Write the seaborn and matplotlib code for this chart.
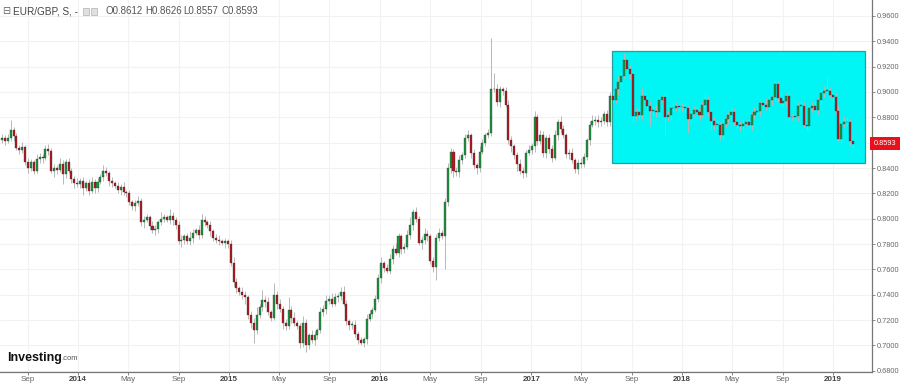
import numpy as np
import pandas as pd
import matplotlib
matplotlib.use("Agg")
import matplotlib.pyplot as plt
import seaborn as sns
from matplotlib.patches import Rectangle

# ---------------- data (weekly EUR/GBP, first week = 2013-07-01) ----------------
start_week = "2013-07-01"
first_open = 0.8620
closes = [
    0.8640, 0.8615, 0.8640, 0.8700, 0.8650, 0.8560, 0.8540, 0.8565, 0.8450, 0.8400,
    0.8445, 0.8380, 0.8470, 0.8490, 0.8480, 0.8550, 0.8535, 0.8380, 0.8400, 0.8385,
    0.8430, 0.8350, 0.8450, 0.8380, 0.8310, 0.8280, 0.8270, 0.8300, 0.8240, 0.8280,
    0.8220, 0.8290, 0.8240, 0.8290, 0.8330, 0.8380, 0.8360, 0.8300, 0.8280, 0.8260,
    0.8230, 0.8250, 0.8210, 0.8200, 0.8130, 0.8100, 0.8120, 0.8140, 0.7970, 0.7990,
    0.8010, 0.7940, 0.7910, 0.7920, 0.7970, 0.8000, 0.8010, 0.7990, 0.8020, 0.7990,
    0.7950, 0.7820, 0.7830, 0.7860, 0.7820, 0.7850, 0.7890, 0.7910, 0.7870, 0.7990,
    0.7970, 0.7950, 0.7900, 0.7850, 0.7830, 0.7820, 0.7810, 0.7820, 0.7800, 0.7650,
    0.7500, 0.7450, 0.7420, 0.7400, 0.7380, 0.7240, 0.7180, 0.7120, 0.7240, 0.7300,
    0.7360, 0.7340, 0.7260, 0.7220, 0.7400, 0.7330, 0.7290, 0.7180, 0.7150, 0.7280,
    0.7220, 0.7180, 0.7150, 0.7020, 0.7180, 0.7000, 0.7080, 0.7040, 0.7080, 0.7120,
    0.7260, 0.7290, 0.7350, 0.7370, 0.7330, 0.7380, 0.7390, 0.7420, 0.7330, 0.7190,
    0.7160, 0.7160, 0.7090, 0.7040, 0.7020, 0.7050, 0.7210, 0.7250, 0.7280, 0.7370,
    0.7530, 0.7650, 0.7610, 0.7590, 0.7680, 0.7760, 0.7730, 0.7860, 0.7760, 0.7780,
    0.7870, 0.7950, 0.8050, 0.8000, 0.7810, 0.7830, 0.7880, 0.7860, 0.7670, 0.7620,
    0.7850, 0.7890, 0.7860, 0.8130, 0.8400, 0.8530, 0.8380, 0.8370, 0.8460, 0.8500,
    0.8640, 0.8660, 0.8520, 0.8420, 0.8400, 0.8530, 0.8600, 0.8660, 0.8680, 0.9020,
    0.9020, 0.8920, 0.9020, 0.9010, 0.8900, 0.8620, 0.8570, 0.8500, 0.8430, 0.8380,
    0.8360, 0.8520, 0.8540, 0.8570, 0.8800, 0.8610, 0.8660, 0.8520, 0.8640, 0.8550,
    0.8480, 0.8660, 0.8760, 0.8710, 0.8660, 0.8510, 0.8520, 0.8460, 0.8390, 0.8440,
    0.8430, 0.8490, 0.8620, 0.8740, 0.8770, 0.8780, 0.8760, 0.8770, 0.8830, 0.8760,
    0.8970, 0.8940, 0.9020, 0.9080, 0.9130, 0.9250, 0.9180, 0.9140, 0.8810, 0.8840,
    0.8820, 0.8970, 0.8940, 0.8890, 0.8850, 0.8850, 0.8840, 0.8940, 0.8960, 0.8800,
    0.8820, 0.8870, 0.8870, 0.8890, 0.8880, 0.8880, 0.8870, 0.8790, 0.8830, 0.8860,
    0.8840, 0.8820, 0.8900, 0.8940, 0.8840, 0.8770, 0.8740, 0.8740, 0.8660, 0.8750,
    0.8790, 0.8820, 0.8840, 0.8760, 0.8740, 0.8730, 0.8750, 0.8760, 0.8740, 0.8820,
    0.8840, 0.8850, 0.8910, 0.8900, 0.8880, 0.8940, 0.8960, 0.9060, 0.8950, 0.8910,
    0.8930, 0.8970, 0.8800, 0.8800, 0.8810, 0.8890, 0.8890, 0.8740, 0.8730, 0.8870,
    0.8890, 0.8860, 0.8940, 0.8990, 0.9010, 0.9010, 0.8980, 0.8960, 0.8850, 0.8630,
    0.8750, 0.8760, 0.8760, 0.8612, 0.8593,
]
# wick extension above / below the body, in 0.001 units
wick_up = [
    3, 2, 3, 8, 2, 3, 2, 4, 2, 3,   3, 2, 4, 3, 2, 3, 4, 2, 3, 2,
    5, 3, 2, 3, 2, 3, 4, 2, 3, 2,   3, 4, 2, 3, 2, 4, 3, 2, 3, 2,
    3, 2, 4, 2, 3, 2, 3, 4, 2, 3,   3, 2, 4, 3, 2, 5, 3, 2, 6, 3,
    2, 3, 4, 2, 3, 5, 3, 2, 4, 5,   3, 2, 3, 2, 3, 4, 2, 3, 2, 3,
    5, 3, 2, 4, 3, 2, 3, 4, 6, 3,   8, 3, 4, 2, 9, 3, 4, 2, 3, 10,
    3, 4, 2, 3, 5, 3, 2, 4, 3, 2,   4, 3, 5, 3, 4, 3, 2, 4, 5, 3,
    2, 3, 4, 2, 3, 2, 4, 3, 2, 3,   3, 5, 2, 3, 4, 3, 5, 3, 2, 3,
    4, 6, 3, 4, 2, 3, 5, 3, 2, 3,   3, 4, 2, 3, 4, 3, 2, 3, 4, 3,
    3, 4, 2, 3, 2, 4, 3, 2, 3, 41,  13, 4, 3, 2, 3, 4, 3, 2, 3, 4,
    3, 2, 4, 3, 5, 3, 4, 3, 2, 3,   3, 4, 3, 5, 3, 2, 3, 4, 2, 3,
    4, 3, 2, 3, 5, 3, 4, 3, 2, 3,   3, 4, 3, 5, 3, 6, 4, 3, 2, 3,
    4, 6, 3, 2, 4, 3, 5, 3, 2, 3,   3, 2, 4, 3, 2, 3, 4, 3, 2, 3,
    3, 4, 3, 5, 3, 2, 3, 4, 2, 3,   3, 2, 4, 3, 2, 3, 4, 2, 3, 3,
    4, 3, 2, 3, 5, 3, 2, 3, 3, 4,   3, 2, 4, 3, 2, 3, 5, 3, 2, 3,
    4, 3, 2, 3, 4, 11, 3, 2, 3, 4,  3, 5, 4, 3, 1.4,
]
wick_dn = [
    2, 3, 2, 3, 4, 2, 3, 2, 3, 4,   2, 3, 2, 3, 4, 2, 3, 2, 5, 3,
    2, 8, 3, 2, 3, 4, 2, 3, 5, 2,   3, 2, 4, 3, 2, 3, 2, 4, 3, 2,
    3, 4, 2, 3, 2, 3, 4, 2, 3, 4,   2, 3, 2, 4, 3, 2, 3, 2, 3, 4,
    3, 2, 4, 3, 2, 3, 4, 2, 3, 2,   3, 2, 4, 3, 2, 3, 2, 4, 3, 2,
    3, 4, 2, 3, 5, 3, 4, 10, 3, 2,  3, 4, 2, 3, 2, 4, 3, 5, 3, 2,
    4, 3, 2, 4, 3, 5, 3, 2, 4, 3,   2, 3, 4, 2, 3, 2, 4, 3, 2, 3,
    4, 3, 2, 3, 2, 3, 4, 2, 3, 2,   3, 4, 3, 2, 3, 4, 2, 3, 4, 3,
    2, 3, 4, 3, 2, 5, 3, 4, 3, 4,   10, 3, 2, 26, 3, 4, 5, 3, 4, 3,
    2, 3, 4, 3, 5, 3, 2, 3, 2, 3,   2, 3, 4, 3, 2, 3, 4, 3, 5, 3,
    4, 3, 2, 3, 4, 3, 2, 3, 4, 3,   3, 2, 4, 3, 2, 3, 4, 2, 3, 4,
    3, 2, 3, 4, 2, 3, 4, 3, 2, 3,   3, 2, 3, 4, 3, 2, 3, 4, 5, 3,
    3, 4, 2, 3, 12, 3, 4, 3, 2, 14, 3, 4, 3, 2, 3, 4, 3, 11, 3, 2,
    3, 4, 2, 3, 3, 6, 4, 3, 4, 3,   3, 4, 3, 2, 3, 4, 3, 2, 3, 4,
    3, 2, 4, 3, 2, 3, 4, 3, 3, 2,   3, 4, 3, 2, 3, 4, 3, 2, 3, 4,
    3, 2, 3, 4, 3, 2, 3, 4, 3, 2,   4, 3, 2, 3, 3.6,
]
y_ticks = [0.68, 0.70, 0.72, 0.74, 0.76, 0.78, 0.80, 0.82, 0.84, 0.86,
           0.88, 0.90, 0.92, 0.94, 0.96]
x_tick_dates = ["2013-09-01", "2014-01-01", "2014-05-01", "2014-09-01", "2015-01-01",
                "2015-05-01", "2015-09-01", "2016-01-01", "2016-05-01", "2016-09-01",
                "2017-01-01", "2017-05-01", "2017-09-01", "2018-01-01", "2018-05-01",
                "2018-09-01", "2019-01-01"]
x_tick_labels = ["Sep", "2014", "May", "Sep", "2015", "May", "Sep", "2016", "May",
                 "Sep", "2017", "May", "Sep", "2018", "May", "Sep", "2019"]
box_dates = ["2017-07-15", "2019-03-20"]
box_prices = [0.8440, 0.9322]
last_price = 0.8593
header_name = "EUR/GBP, S, -"
header_ohlc = ["O0.8612", "H0.8626", "L0.8557", "C0.8593"]

# ---------------- build ----------------
sns.set_theme(style="white")
plt.rcParams["font.family"] = ["Liberation Sans", "DejaVu Sans"]

t0 = pd.Timestamp(start_week)
def wk(d):
    return (pd.Timestamp(d) - t0).days / 7.0

close = np.array(closes)
n = len(close)
opn = np.concatenate([[first_open], close[:-1]])
high = np.maximum(opn, close) + np.array(wick_up) * 0.001
low = np.minimum(opn, close) - np.array(wick_dn) * 0.001
x = np.arange(n)
df = pd.DataFrame({"x": x, "open": opn, "close": close, "high": high, "low": low})
df["up"] = df["close"] >= df["open"]

W, H = 900, 384
fig = plt.figure(figsize=(9, 3.84), dpi=100)
ax = fig.add_axes([0, 1 - 372 / H, 872 / W, 372 / H])

ax.set_xlim(-0.69, 300.6)
ax.set_ylim(0.6790, 0.9726)

# grid
for yt in y_ticks:
    ax.axhline(yt, color="#f2f2f2", lw=0.8, zorder=0)
xt = [wk(d) for d in x_tick_dates]
for v in xt:
    ax.axvline(v, color="#f2f2f2", lw=0.8, zorder=0)

# cyan box
bx0, bx1 = wk(box_dates[0]), wk(box_dates[1])
ax.add_patch(Rectangle((bx0, box_prices[0]), bx1 - bx0, box_prices[1] - box_prices[0],
                       facecolor="#00f5f5", edgecolor="#2a9c9c", lw=0.9, zorder=1))

# wicks
ax.vlines(df["x"], df["low"], df["high"], color="#b8b8b8", lw=0.7, zorder=2)
# bodies
green, red = "#17963a", "#b5151d"
body_h = (df["close"] - df["open"]).abs().clip(lower=0.0005)
body_b = np.minimum(df["open"], df["close"])
cols = np.where(df["up"], green, red)
ax.bar(df["x"], body_h, bottom=body_b, width=0.7, color=cols,
       edgecolor="#3a3a3a", linewidth=0.25, zorder=3)

# axes styling
for s in ["top", "left"]:
    ax.spines[s].set_visible(False)
for s in ["right", "bottom"]:
    ax.spines[s].set_color("#777777")
    ax.spines[s].set_linewidth(0.9)
ax.yaxis.tick_right()
ax.set_yticks(y_ticks)
ax.set_yticklabels([f"{v:.4f}" for v in y_ticks])
ax.tick_params(axis="y", right=True, length=2.5, width=0.6, color="#777777",
               labelsize=5.3, labelcolor="#666666", pad=1.2)
ax.set_xticks(xt)
ax.set_xticklabels(x_tick_labels)
ax.tick_params(axis="x", bottom=True, length=2, width=0.6, color="#777777",
               labelsize=5.8, labelcolor="#666666", pad=1.0)
for lab in ax.get_xticklabels():
    if lab.get_text().isdigit():
        lab.set_fontweight("bold")
        lab.set_color("#444444")

# last-price tag (covers the 0.8600 label, as in the original)
ax.text(1.002, last_price, f"{last_price:.4f}", transform=ax.get_yaxis_transform(),
        ha="left", va="center", fontsize=5.3, color="white", clip_on=False, zorder=6,
        bbox=dict(boxstyle="square,pad=0.45", fc="#e8101a", ec="none"))

# header
hy = 1 - 11 / H
fig.text(2 / W, hy, "⊟", fontsize=7, color="#666666", va="center",
         family=["DejaVu Sans"])
fig.text(13 / W, hy, header_name, fontsize=7.2, color="#444444", va="center")
for px in (83, 91):
    fig.patches.append(Rectangle((px / W, 1 - 15 / H), 6 / W, 7 / H,
                                 transform=fig.transFigure, fc="#e0e0e0", ec="#b0b0b0",
                                 lw=0.5))
for px, s in zip((106, 145, 183, 221), header_ohlc):
    fig.text(px / W, hy, s, fontsize=7, color="#555555", va="center")

# logo
fig.text(7 / W, 1 - 358 / H, "Investing", fontsize=9, fontweight="bold",
         color="#111111", va="center")
fig.text(61 / W, 1 - 359 / H, ".com", fontsize=5.5, color="#555555", va="center")

fig.savefig("out.png", dpi=100, facecolor="white")
